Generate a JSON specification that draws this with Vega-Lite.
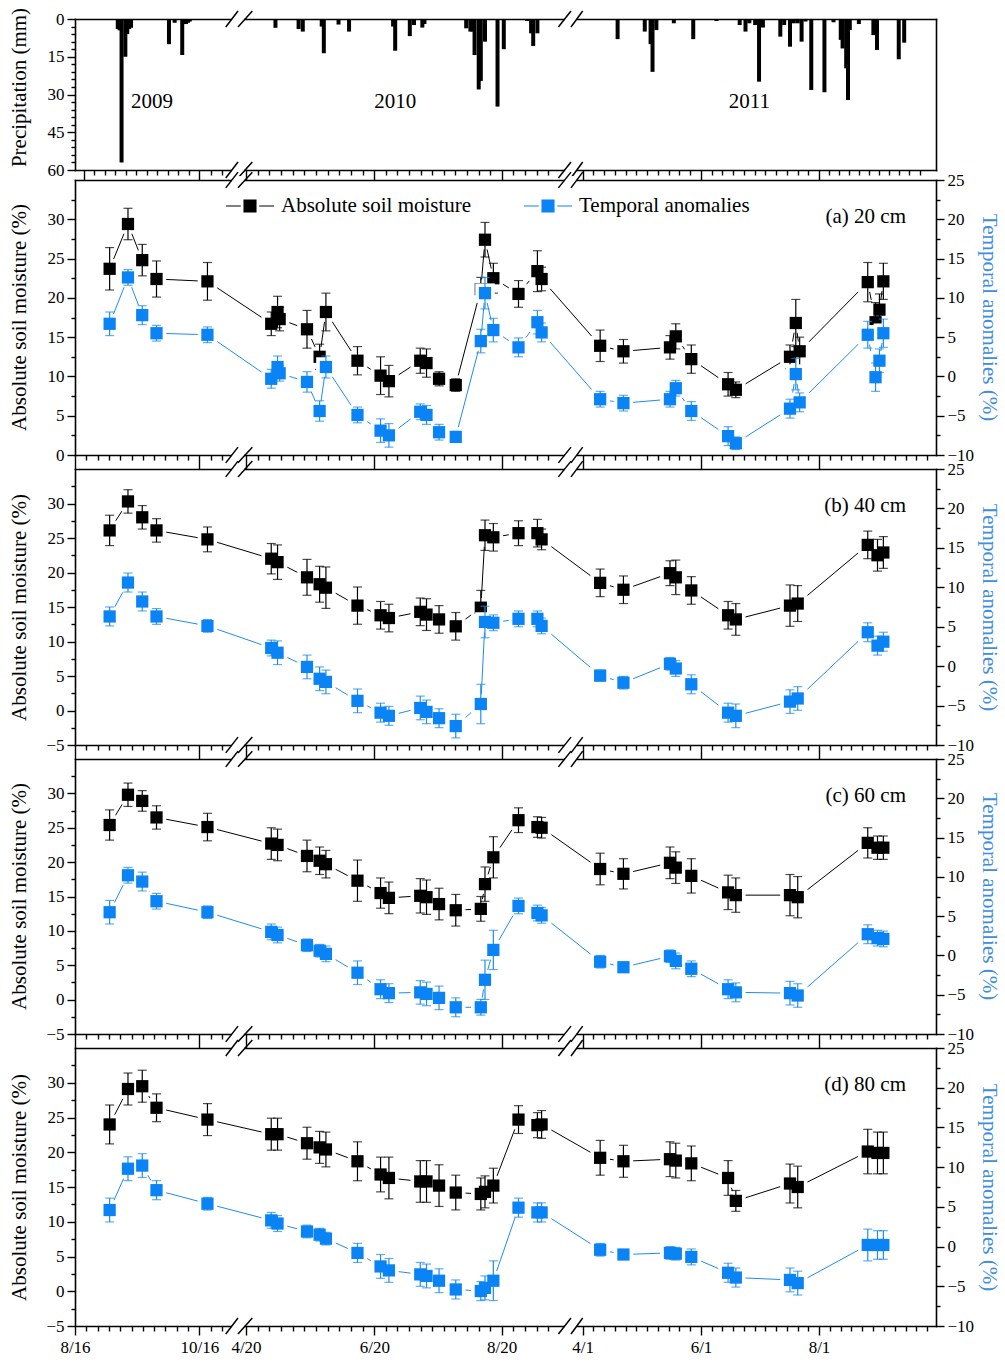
{
"$schema":"https://vega.github.io/schema/vega-lite/v6.json",
"background":"white",
"padding":{"left":7,"top":7,"right":5,"bottom":0},
"config":{
 "view":{"stroke":null},
 "axis":{"grid":false,"labelFont":"Liberation Serif","labelFontSize":17,"labelColor":"black","titleFont":"Liberation Serif","titleFontSize":21,"titleFontWeight":"normal","titleColor":"black","domainColor":"black","domainWidth":1.6,"domainCap":"square","tickColor":"black","tickWidth":1.4,"labelFlush":false,"labelOverlap":false,"labelBound":false},
 "legend":{"labelFont":"Liberation Serif"}
},
"datasets":{
 "gaps":[{"s":"2009-11-01","e":"2010-04-19"},{"s":"2010-09-19","e":"2011-03-29"}],
 "slashes":[{"s":"2009-10-29","e":"2009-11-04"},{"s":"2010-04-16","e":"2010-04-23"},{"s":"2010-09-16","e":"2010-09-22"},{"s":"2011-03-26","e":"2011-04-01"}],
 "yr":[{"t":"2009-09-21","mm":33,"label":"2009"},{"t":"2010-06-30","mm":33,"label":"2010"},{"t":"2011-06-26","mm":33,"label":"2011"}],
 "pr":[
{"t":"2009-09-03","mm":4},{"t":"2009-09-04","mm":4.5},{"t":"2009-09-05","mm":57},{"t":"2009-09-07","mm":15},{"t":"2009-09-08","mm":6},{"t":"2009-09-09","mm":4},{"t":"2009-09-10","mm":3.5},{"t":"2009-09-30","mm":10},{"t":"2009-10-03","mm":1.5},{"t":"2009-10-07","mm":14.3},{"t":"2009-10-09","mm":2},{"t":"2009-10-10","mm":1.5},{"t":"2009-10-11","mm":1},
{"t":"2010-05-04","mm":3.5},{"t":"2010-05-15","mm":4},{"t":"2010-05-17","mm":5},{"t":"2010-05-26","mm":3},{"t":"2010-05-27","mm":13.6},{"t":"2010-06-03","mm":2.2},{"t":"2010-06-08","mm":5},{"t":"2010-06-29","mm":3},{"t":"2010-06-30","mm":12.6},{"t":"2010-07-07","mm":6.8},{"t":"2010-07-09","mm":2.4},{"t":"2010-07-13","mm":3.4},{"t":"2010-07-14","mm":2},{"t":"2010-08-03","mm":3.7},{"t":"2010-08-05","mm":5},{"t":"2010-08-06","mm":5},{"t":"2010-08-07","mm":14.3},{"t":"2010-08-09","mm":28},{"t":"2010-08-10","mm":24.6},{"t":"2010-08-12","mm":9},{"t":"2010-08-18","mm":34.8},{"t":"2010-08-21","mm":12},{"t":"2010-09-01","mm":0.8},{"t":"2010-09-03","mm":5.7},{"t":"2010-09-04","mm":10.7},{"t":"2010-09-06","mm":5.7},
{"t":"2011-04-19","mm":8},{"t":"2011-05-03","mm":5},{"t":"2011-05-06","mm":10},{"t":"2011-05-07","mm":21},{"t":"2011-05-09","mm":4.4},{"t":"2011-05-18","mm":1.7},{"t":"2011-05-28","mm":8},{"t":"2011-06-09","mm":0.8},{"t":"2011-06-21","mm":2.4},{"t":"2011-06-24","mm":5},{"t":"2011-06-26","mm":1.7},{"t":"2011-06-29","mm":2.4},{"t":"2011-07-01","mm":24.9},{"t":"2011-07-03","mm":3.4},{"t":"2011-07-12","mm":7},{"t":"2011-07-14","mm":2.4},{"t":"2011-07-17","mm":11},{"t":"2011-07-19","mm":1.7},{"t":"2011-07-21","mm":1.7},{"t":"2011-07-23","mm":9},{"t":"2011-07-25","mm":1},{"t":"2011-07-28","mm":28.2},{"t":"2011-08-04","mm":29.1},{"t":"2011-08-09","mm":1.3},{"t":"2011-08-13","mm":8.3},{"t":"2011-08-14","mm":11.7},{"t":"2011-08-16","mm":19.6},{"t":"2011-08-17","mm":32.2},{"t":"2011-08-18","mm":4.4},{"t":"2011-08-23","mm":2},{"t":"2011-08-31","mm":6.4},{"t":"2011-09-02","mm":12.3},{"t":"2011-09-14","mm":16},{"t":"2011-09-17","mm":9.4}
 ],
 "sm":[
{"d":"a","t":"2009-09-02","sm":23.7,"se":2.7,"an":6.7,"ae":1.5},
{"d":"a","t":"2009-09-11","sm":29.4,"se":2.0,"an":12.6,"ae":1.0},
{"d":"a","t":"2009-09-18","sm":24.8,"se":2.0,"an":7.8,"ae":1.2},
{"d":"a","t":"2009-09-25","sm":22.4,"se":2.3,"an":5.5,"ae":1.0},
{"d":"a","t":"2009-10-20","sm":22.1,"se":2.4,"an":5.3,"ae":1.0},
{"d":"a","t":"2010-05-02","sm":16.7,"se":1.5,"an":-0.3,"ae":1.2},
{"d":"a","t":"2010-05-05","sm":18.2,"se":2.0,"an":1.2,"ae":1.4},
{"d":"a","t":"2010-05-06","sm":17.3,"se":1.5,"an":0.4,"ae":1.0},
{"d":"a","t":"2010-05-19","sm":16.0,"se":2.4,"an":-0.7,"ae":1.3},
{"d":"a","t":"2010-05-25","sm":12.5,"se":1.6,"an":-4.4,"ae":1.3},
{"d":"a","t":"2010-05-28","sm":18.2,"se":2.4,"an":1.2,"ae":1.4},
{"d":"a","t":"2010-06-12","sm":12.0,"se":1.8,"an":-4.9,"ae":1.0},
{"d":"a","t":"2010-06-23","sm":10.1,"se":2.4,"an":-6.9,"ae":1.5},
{"d":"a","t":"2010-06-27","sm":9.4,"se":2.0,"an":-7.5,"ae":1.5},
{"d":"a","t":"2010-07-12","sm":12.0,"se":1.6,"an":-4.5,"ae":1.0},
{"d":"a","t":"2010-07-15","sm":11.7,"se":1.8,"an":-4.9,"ae":1.2},
{"d":"a","t":"2010-07-21","sm":9.7,"se":0.9,"an":-7.1,"ae":1.0},
{"d":"a","t":"2010-07-29","sm":8.9,"se":0.8,"an":-7.7,"ae":0.7},
{"d":"a","t":"2010-08-10","sm":21.1,"se":1.5,"an":4.5,"ae":1.5},
{"d":"a","t":"2010-08-12","sm":27.4,"se":2.2,"an":10.6,"ae":2.0},
{"d":"a","t":"2010-08-16","sm":22.5,"se":1.9,"an":5.9,"ae":1.5},
{"d":"a","t":"2010-08-28","sm":20.5,"se":1.7,"an":3.7,"ae":1.2},
{"d":"a","t":"2010-09-06","sm":23.4,"se":2.6,"an":6.9,"ae":1.5},
{"d":"a","t":"2010-09-08","sm":22.4,"se":1.5,"an":5.6,"ae":1.2},
{"d":"a","t":"2011-04-10","sm":13.9,"se":2.0,"an":-2.9,"ae":1.0},
{"d":"a","t":"2011-04-22","sm":13.2,"se":1.5,"an":-3.4,"ae":1.0},
{"d":"a","t":"2011-05-16","sm":13.7,"se":1.5,"an":-2.9,"ae":1.0},
{"d":"a","t":"2011-05-19","sm":15.1,"se":1.6,"an":-1.5,"ae":1.0},
{"d":"a","t":"2011-05-27","sm":12.2,"se":1.8,"an":-4.4,"ae":1.2},
{"d":"a","t":"2011-06-15","sm":9.0,"se":1.5,"an":-7.6,"ae":1.2},
{"d":"a","t":"2011-06-19","sm":8.3,"se":1.0,"an":-8.5,"ae":0.8},
{"d":"a","t":"2011-07-17","sm":12.5,"se":1.5,"an":-4.1,"ae":1.2},
{"d":"a","t":"2011-07-20","sm":16.8,"se":3.0,"an":0.3,"ae":2.0},
{"d":"a","t":"2011-07-22","sm":13.2,"se":1.8,"an":-3.3,"ae":1.2},
{"d":"a","t":"2011-08-26","sm":22.0,"se":2.5,"an":5.3,"ae":1.7},
{"d":"a","t":"2011-08-30","sm":16.9,"se":2.5,"an":-0.1,"ae":1.8},
{"d":"a","t":"2011-09-01","sm":18.5,"se":2.0,"an":2.0,"ae":1.5},
{"d":"a","t":"2011-09-03","sm":22.1,"se":2.3,"an":5.5,"ae":1.8},
{"d":"b","t":"2009-09-02","sm":26.1,"se":2.2,"an":6.3,"ae":1.2},
{"d":"b","t":"2009-09-11","sm":30.3,"se":1.7,"an":10.6,"ae":1.2},
{"d":"b","t":"2009-09-18","sm":28.0,"se":1.7,"an":8.2,"ae":1.2},
{"d":"b","t":"2009-09-25","sm":26.1,"se":1.7,"an":6.3,"ae":1.0},
{"d":"b","t":"2009-10-20","sm":24.8,"se":1.8,"an":5.1,"ae":0.8},
{"d":"b","t":"2010-05-02","sm":22.0,"se":2.2,"an":2.3,"ae":1.0},
{"d":"b","t":"2010-05-05","sm":21.5,"se":2.5,"an":1.7,"ae":1.5},
{"d":"b","t":"2010-05-19","sm":19.3,"se":2.6,"an":-0.1,"ae":1.5},
{"d":"b","t":"2010-05-25","sm":18.3,"se":2.6,"an":-1.6,"ae":1.5},
{"d":"b","t":"2010-05-28","sm":17.8,"se":3.0,"an":-2.0,"ae":1.5},
{"d":"b","t":"2010-06-12","sm":15.2,"se":2.7,"an":-4.4,"ae":1.5},
{"d":"b","t":"2010-06-23","sm":13.8,"se":2.0,"an":-5.9,"ae":1.2},
{"d":"b","t":"2010-06-27","sm":13.4,"se":2.0,"an":-6.3,"ae":1.2},
{"d":"b","t":"2010-07-12","sm":14.3,"se":2.0,"an":-5.3,"ae":1.5},
{"d":"b","t":"2010-07-15","sm":13.9,"se":2.3,"an":-5.8,"ae":1.5},
{"d":"b","t":"2010-07-21","sm":13.2,"se":2.0,"an":-6.6,"ae":1.2},
{"d":"b","t":"2010-07-29","sm":12.2,"se":2.0,"an":-7.6,"ae":1.5},
{"d":"b","t":"2010-08-10","sm":14.9,"se":2.5,"an":-4.8,"ae":2.5},
{"d":"b","t":"2010-08-12","sm":25.4,"se":2.2,"an":5.6,"ae":2.0},
{"d":"b","t":"2010-08-16","sm":25.1,"se":2.0,"an":5.5,"ae":1.0},
{"d":"b","t":"2010-08-28","sm":25.7,"se":1.8,"an":6.0,"ae":1.0},
{"d":"b","t":"2010-09-06","sm":25.7,"se":2.0,"an":6.0,"ae":1.0},
{"d":"b","t":"2010-09-08","sm":24.8,"se":1.5,"an":5.1,"ae":1.0},
{"d":"b","t":"2011-04-10","sm":18.5,"se":2.0,"an":-1.2,"ae":0.7},
{"d":"b","t":"2011-04-22","sm":17.5,"se":2.0,"an":-2.1,"ae":0.8},
{"d":"b","t":"2011-05-16","sm":19.9,"se":1.8,"an":0.3,"ae":0.8},
{"d":"b","t":"2011-05-19","sm":19.3,"se":2.5,"an":-0.3,"ae":1.0},
{"d":"b","t":"2011-05-27","sm":17.4,"se":2.0,"an":-2.3,"ae":1.2},
{"d":"b","t":"2011-06-15","sm":13.8,"se":2.0,"an":-5.9,"ae":1.2},
{"d":"b","t":"2011-06-19","sm":13.2,"se":2.3,"an":-6.3,"ae":1.5},
{"d":"b","t":"2011-07-17","sm":15.2,"se":3.0,"an":-4.5,"ae":1.5},
{"d":"b","t":"2011-07-21","sm":15.5,"se":2.6,"an":-4.1,"ae":1.5},
{"d":"b","t":"2011-08-26","sm":24.0,"se":2.0,"an":4.3,"ae":1.2},
{"d":"b","t":"2011-08-31","sm":22.5,"se":2.3,"an":2.6,"ae":1.2},
{"d":"b","t":"2011-09-03","sm":22.9,"se":2.3,"an":3.1,"ae":1.2},
{"d":"c","t":"2009-09-02","sm":25.4,"se":2.2,"an":5.5,"ae":1.5},
{"d":"c","t":"2009-09-11","sm":29.8,"se":1.7,"an":10.2,"ae":1.0},
{"d":"c","t":"2009-09-18","sm":28.9,"se":1.5,"an":9.4,"ae":1.2},
{"d":"c","t":"2009-09-25","sm":26.5,"se":1.7,"an":6.9,"ae":1.0},
{"d":"c","t":"2009-10-20","sm":25.1,"se":2.0,"an":5.5,"ae":0.8},
{"d":"c","t":"2010-05-02","sm":22.7,"se":2.3,"an":3.0,"ae":1.0},
{"d":"c","t":"2010-05-05","sm":22.5,"se":2.3,"an":2.6,"ae":1.0},
{"d":"c","t":"2010-05-19","sm":20.9,"se":2.3,"an":1.3,"ae":0.8},
{"d":"c","t":"2010-05-25","sm":20.2,"se":2.0,"an":0.6,"ae":0.8},
{"d":"c","t":"2010-05-28","sm":19.7,"se":2.0,"an":0.2,"ae":1.0},
{"d":"c","t":"2010-06-12","sm":17.3,"se":3.0,"an":-2.2,"ae":1.5},
{"d":"c","t":"2010-06-23","sm":15.5,"se":2.2,"an":-4.3,"ae":1.2},
{"d":"c","t":"2010-06-27","sm":14.8,"se":2.3,"an":-4.8,"ae":1.2},
{"d":"c","t":"2010-07-12","sm":15.1,"se":2.5,"an":-4.7,"ae":1.5},
{"d":"c","t":"2010-07-15","sm":14.9,"se":2.5,"an":-4.9,"ae":1.5},
{"d":"c","t":"2010-07-21","sm":13.9,"se":2.3,"an":-5.4,"ae":1.5},
{"d":"c","t":"2010-07-29","sm":13.0,"se":2.3,"an":-6.6,"ae":1.2},
{"d":"c","t":"2010-08-10","sm":13.2,"se":1.8,"an":-6.6,"ae":1.0},
{"d":"c","t":"2010-08-12","sm":16.8,"se":2.5,"an":-3.1,"ae":2.5},
{"d":"c","t":"2010-08-16","sm":20.7,"se":3.0,"an":0.7,"ae":2.5},
{"d":"c","t":"2010-08-28","sm":26.1,"se":1.8,"an":6.3,"ae":1.0},
{"d":"c","t":"2010-09-06","sm":25.1,"se":1.5,"an":5.4,"ae":1.0},
{"d":"c","t":"2010-09-08","sm":25.0,"se":1.5,"an":5.1,"ae":1.0},
{"d":"c","t":"2011-04-10","sm":19.0,"se":2.3,"an":-0.8,"ae":0.8},
{"d":"c","t":"2011-04-22","sm":18.3,"se":2.2,"an":-1.5,"ae":0.6},
{"d":"c","t":"2011-05-16","sm":19.9,"se":2.3,"an":-0.1,"ae":0.8},
{"d":"c","t":"2011-05-19","sm":19.2,"se":2.3,"an":-0.7,"ae":1.0},
{"d":"c","t":"2011-05-27","sm":18.0,"se":2.5,"an":-1.7,"ae":1.0},
{"d":"c","t":"2011-06-15","sm":15.6,"se":2.5,"an":-4.3,"ae":1.2},
{"d":"c","t":"2011-06-19","sm":15.2,"se":2.5,"an":-4.7,"ae":1.2},
{"d":"c","t":"2011-07-17","sm":15.2,"se":3.0,"an":-4.8,"ae":1.5},
{"d":"c","t":"2011-07-21","sm":14.9,"se":3.0,"an":-5.1,"ae":1.5},
{"d":"c","t":"2011-08-26","sm":22.8,"se":2.2,"an":2.7,"ae":1.2},
{"d":"c","t":"2011-08-31","sm":22.1,"se":1.7,"an":2.2,"ae":1.0},
{"d":"c","t":"2011-09-03","sm":22.1,"se":1.7,"an":2.1,"ae":1.0},
{"d":"d","t":"2009-09-02","sm":24.0,"se":2.8,"an":4.6,"ae":1.5},
{"d":"d","t":"2009-09-11","sm":29.1,"se":2.3,"an":9.8,"ae":1.5},
{"d":"d","t":"2009-09-18","sm":29.5,"se":2.3,"an":10.2,"ae":1.5},
{"d":"d","t":"2009-09-25","sm":26.4,"se":2.0,"an":7.1,"ae":1.2},
{"d":"d","t":"2009-10-20","sm":24.7,"se":2.3,"an":5.4,"ae":0.8},
{"d":"d","t":"2010-05-02","sm":22.6,"se":2.3,"an":3.3,"ae":1.0},
{"d":"d","t":"2010-05-05","sm":22.6,"se":2.3,"an":2.9,"ae":1.0},
{"d":"d","t":"2010-05-19","sm":21.3,"se":2.3,"an":1.9,"ae":0.8},
{"d":"d","t":"2010-05-25","sm":20.7,"se":2.3,"an":1.5,"ae":0.8},
{"d":"d","t":"2010-05-28","sm":20.4,"se":2.5,"an":1.0,"ae":0.8},
{"d":"d","t":"2010-06-12","sm":18.7,"se":2.8,"an":-0.8,"ae":1.2},
{"d":"d","t":"2010-06-23","sm":16.8,"se":2.5,"an":-2.5,"ae":1.5},
{"d":"d","t":"2010-06-27","sm":16.3,"se":3.0,"an":-3.0,"ae":1.5},
{"d":"d","t":"2010-07-12","sm":15.8,"se":3.0,"an":-3.5,"ae":1.5},
{"d":"d","t":"2010-07-15","sm":15.8,"se":3.0,"an":-3.7,"ae":1.5},
{"d":"d","t":"2010-07-21","sm":15.2,"se":3.0,"an":-4.3,"ae":1.5},
{"d":"d","t":"2010-07-29","sm":14.2,"se":2.5,"an":-5.4,"ae":1.2},
{"d":"d","t":"2010-08-10","sm":14.0,"se":2.3,"an":-5.6,"ae":1.2},
{"d":"d","t":"2010-08-12","sm":14.3,"se":2.3,"an":-5.2,"ae":1.5},
{"d":"d","t":"2010-08-16","sm":15.2,"se":2.5,"an":-4.3,"ae":2.5},
{"d":"d","t":"2010-08-28","sm":24.7,"se":2.0,"an":4.9,"ae":1.2},
{"d":"d","t":"2010-09-06","sm":23.9,"se":1.8,"an":4.3,"ae":1.2},
{"d":"d","t":"2010-09-08","sm":24.0,"se":2.0,"an":4.3,"ae":1.2},
{"d":"d","t":"2011-04-10","sm":19.2,"se":2.5,"an":-0.4,"ae":0.8},
{"d":"d","t":"2011-04-22","sm":18.7,"se":2.3,"an":-1.0,"ae":0.6},
{"d":"d","t":"2011-05-16","sm":19.0,"se":2.5,"an":-0.8,"ae":0.8},
{"d":"d","t":"2011-05-19","sm":18.8,"se":2.5,"an":-0.9,"ae":0.8},
{"d":"d","t":"2011-05-27","sm":18.4,"se":2.5,"an":-1.3,"ae":1.0},
{"d":"d","t":"2011-06-15","sm":16.3,"se":2.5,"an":-3.3,"ae":1.2},
{"d":"d","t":"2011-06-19","sm":13.0,"se":1.5,"an":-3.9,"ae":1.2},
{"d":"d","t":"2011-07-17","sm":15.5,"se":2.8,"an":-4.2,"ae":1.5},
{"d":"d","t":"2011-07-21","sm":15.0,"se":3.0,"an":-4.6,"ae":1.5},
{"d":"d","t":"2011-08-26","sm":20.1,"se":3.2,"an":0.2,"ae":2.0},
{"d":"d","t":"2011-08-31","sm":19.9,"se":3.0,"an":0.2,"ae":1.8},
{"d":"d","t":"2011-09-03","sm":19.9,"se":3.0,"an":0.2,"ae":1.8}
 ]
},
"spacing":10,
"bounds":"flush",
"resolve":{"scale":{"color":"independent"},"legend":{"color":"independent"}},
"vconcat":[
{
 "width":861,"height":151,
 "resolve":{"axis":{"x":"independent","y":"independent"}},
 "layer":[
  {"data":{"name":"pr","format":{"parse":{"t":"date"}}},"mark":{"type":"bar","color":"black","size":4},
   "encoding":{
    "x":{"field":"t","type":"quantitative","scale":{"type":"linear","nice":false,"zero":false,"domain":[1250380800000,1255651200000,1257292800000,1271376000000,1271721600000,1276992000000,1282262400000,1285113600000,1301097600000,1301616000000,1306886400000,1312156800000,1317340800000],"range":[0,124.3,163,163,171,299.3,426.7,496,496,507.7,626,744,861]},
     "axis":{"orient":"bottom","values":[1250380800000,1255651200000,1271721600000,1276992000000,1282262400000,1301616000000,1306886400000,1312156800000],"tickSize":10,"labels":false,"domain":true,"title":null}},
    "y":{"field":"mm","type":"quantitative","stack":null,"scale":{"domain":[0,60],"reverse":true,"nice":false,"zero":false},
     "axis":{"orient":"left","values":[0,15,30,45,60],"tickSize":8,"labelPadding":3,"title":"Precipitation (mm)","titleX":-50,"titleY":68,"titleAngle":-90,"titleBaseline":"alphabetic","titleAlign":"center"}}}},
  {"data":{"name":"yr","format":{"parse":{"t":"date"}}},"mark":{"type":"text","fontSize":21,"font":"Liberation Serif","color":"black","baseline":"middle","align":"center"},
   "encoding":{
    "x":{"field":"t","type":"quantitative","scale":{"type":"linear","nice":false,"zero":false,"domain":[1250380800000,1255651200000,1257292800000,1271376000000,1271721600000,1276992000000,1282262400000,1285113600000,1301097600000,1301616000000,1306886400000,1312156800000,1317340800000],"range":[0,124.3,163,163,171,299.3,426.7,496,496,507.7,626,744,861]},
     "axis":{"orient":"bottom","values":[1250859927273,1251339054545,1251818181818,1252297309091,1252776436364,1253255563636,1253734690909,1254213818182,1254692945455,1255172072727,1256130327273,1256609454545,1272200727273,1272679854545,1273158981818,1273638109091,1274117236364,1274596363636,1275075490909,1275554618182,1276033745455,1276512872727,1277471127273,1277950254545,1278429381818,1278908509091,1279387636364,1279866763636,1280345890909,1280825018182,1281304145455,1281783272727,1282741527273,1283220654545,1283699781818,1284178909091,1302095127273,1302574254545,1303053381818,1303532509091,1304011636364,1304490763636,1304969890909,1305449018182,1305928145455,1306407272727,1307365527273,1307844654545,1308323781818,1308802909091,1309282036364,1309761163636,1310240290909,1310719418182,1311198545455,1311677672727,1312635927273,1313115054545,1313594181818,1314073309091,1314552436364,1315031563636,1315510690909,1315989818182,1316468945455,1316948072727],"tickSize":5,"labels":false,"domain":false,"title":null}},
    "y":{"field":"mm","type":"quantitative","axis":{"orient":"left","values":[3,6,9,12,18,21,24,27,33,36,39,42,48,51,54,57],"tickSize":4,"labels":false,"domain":false,"title":null}},
    "text":{"field":"label"}}},
  {"data":{"name":"gaps","format":{"parse":{"s":"date","e":"date"}}},"mark":{"type":"rect","color":"white","opacity":1},
   "encoding":{"x":{"field":"s","type":"quantitative","scale":{"type":"linear","nice":false,"zero":false,"domain":[1250380800000,1255651200000,1257292800000,1271376000000,1271721600000,1276992000000,1282262400000,1285113600000,1301097600000,1301616000000,1306886400000,1312156800000,1317340800000],"range":[0,124.3,163,163,171,299.3,426.7,496,496,507.7,626,744,861]},"axis":{"orient":"top","ticks":false,"labels":false,"domain":true,"title":null}},"x2":{"field":"e"},
    "y":{"datum":59.2,"type":"quantitative","axis":{"orient":"right","ticks":false,"labels":false,"domain":true,"title":null}},"y2":{"datum":60.8}}},
  {"data":{"name":"gaps","format":{"parse":{"s":"date","e":"date"}}},"mark":{"type":"rect","color":"white","opacity":1},
   "encoding":{"x":{"field":"s","type":"quantitative","scale":{"type":"linear","nice":false,"zero":false,"domain":[1250380800000,1255651200000,1257292800000,1271376000000,1271721600000,1276992000000,1282262400000,1285113600000,1301097600000,1301616000000,1306886400000,1312156800000,1317340800000],"range":[0,124.3,163,163,171,299.3,426.7,496,496,507.7,626,744,861]},"axis":null},"x2":{"field":"e"},"y":{"datum":-0.8,"type":"quantitative","axis":null},"y2":{"datum":0.8}}},
  {"data":{"name":"slashes","format":{"parse":{"s":"date","e":"date"}}},"mark":{"type":"rule","color":"black","strokeWidth":1.5},
   "encoding":{"x":{"field":"s","type":"quantitative","scale":{"type":"linear","nice":false,"zero":false,"domain":[1250380800000,1255651200000,1257292800000,1271376000000,1271721600000,1276992000000,1282262400000,1285113600000,1301097600000,1301616000000,1306886400000,1312156800000,1317340800000],"range":[0,124.3,163,163,171,299.3,426.7,496,496,507.7,626,744,861]},"axis":null},"x2":{"field":"e"},"y":{"datum":63.2,"type":"quantitative","axis":null},"y2":{"datum":56.8}}},
  {"data":{"name":"slashes","format":{"parse":{"s":"date","e":"date"}}},"mark":{"type":"rule","color":"black","strokeWidth":1.5},
   "encoding":{"x":{"field":"s","type":"quantitative","scale":{"type":"linear","nice":false,"zero":false,"domain":[1250380800000,1255651200000,1257292800000,1271376000000,1271721600000,1276992000000,1282262400000,1285113600000,1301097600000,1301616000000,1306886400000,1312156800000,1317340800000],"range":[0,124.3,163,163,171,299.3,426.7,496,496,507.7,626,744,861]},"axis":null},"x2":{"field":"e"},"y":{"datum":3.2,"type":"quantitative","axis":null},"y2":{"datum":-3.2}}}
 ]
},
{
 "spacing":14,
 "bounds":"flush",
 "resolve":{"scale":{"color":"independent"},"legend":{"color":"independent"}},
 "vconcat":[
 {
  "width":861,"height":275,
  "title":{"text":"(a) 20 cm","anchor":"end","frame":"group","offset":-56,"dx":-30,"fontSize":21,"font":"Liberation Serif","fontWeight":"normal","color":"black"},
  "resolve":{"scale":{"y":"independent"},"axis":{"x":"independent","y":"independent"}},
  "layer":[
   {"data":{"name":"sm","format":{"parse":{"t":"date"}}},"transform":[{"filter":"datum.d==='a'"}],"mark":{"type":"line","color":"black","strokeWidth":1},
    "encoding":{
     "x":{"field":"t","type":"quantitative","scale":{"type":"linear","nice":false,"zero":false,"domain":[1250380800000,1255651200000,1257292800000,1271376000000,1271721600000,1276992000000,1282262400000,1285113600000,1301097600000,1301616000000,1306886400000,1312156800000,1317340800000],"range":[0,124.3,163,163,171,299.3,426.7,496,496,507.7,626,744,861]},
      "axis":{"orient":"bottom","values":[1250859927273,1251339054545,1251818181818,1252297309091,1252776436364,1253255563636,1253734690909,1254213818182,1254692945455,1255172072727,1256130327273,1256609454545,1272200727273,1272679854545,1273158981818,1273638109091,1274117236364,1274596363636,1275075490909,1275554618182,1276033745455,1276512872727,1277471127273,1277950254545,1278429381818,1278908509091,1279387636364,1279866763636,1280345890909,1280825018182,1281304145455,1281783272727,1282741527273,1283220654545,1283699781818,1284178909091,1302095127273,1302574254545,1303053381818,1303532509091,1304011636364,1304490763636,1304969890909,1305449018182,1305928145455,1306407272727,1307365527273,1307844654545,1308323781818,1308802909091,1309282036364,1309761163636,1310240290909,1310719418182,1311198545455,1311677672727,1312635927273,1313115054545,1313594181818,1314073309091,1314552436364,1315031563636,1315510690909,1315989818182,1316468945455,1316948072727],"tickSize":5,"labels":false,"domain":false,"title":null}},
     "y":{"field":"sm","type":"quantitative","scale":{"domain":[0,35],"nice":false,"zero":false},"axis":{"orient":"left","values":[2.5,7.5,12.5,17.5,22.5,27.5,32.5],"tickSize":4,"labels":false,"domain":false,"title":null}}}},
   {"data":{"name":"sm","format":{"parse":{"t":"date"}}},"transform":[{"filter":"datum.d==='a'"}],"mark":{"type":"line","color":"#1E8CF0","strokeWidth":1},
    "encoding":{
     "x":{"field":"t","type":"quantitative","scale":{"type":"linear","nice":false,"zero":false,"domain":[1250380800000,1255651200000,1257292800000,1271376000000,1271721600000,1276992000000,1282262400000,1285113600000,1301097600000,1301616000000,1306886400000,1312156800000,1317340800000],"range":[0,124.3,163,163,171,299.3,426.7,496,496,507.7,626,744,861]},"axis":{"orient":"top","ticks":false,"labels":false,"domain":true,"title":null}},
     "y":{"field":"an","type":"quantitative","scale":{"domain":[-10,25],"nice":false,"zero":false},"axis":{"orient":"right","values":[-7.5,-2.5,2.5,7.5,12.5,17.5,22.5],"tickSize":4,"labels":false,"domain":false,"title":null}}}},
   {"data":{"name":"sm","format":{"parse":{"t":"date"}}},"transform":[{"filter":"datum.d==='a'"}],
    "encoding":{
     "x":{"field":"t","type":"quantitative","scale":{"type":"linear","nice":false,"zero":false,"domain":[1250380800000,1255651200000,1257292800000,1271376000000,1271721600000,1276992000000,1282262400000,1285113600000,1301097600000,1301616000000,1306886400000,1312156800000,1317340800000],"range":[0,124.3,163,163,171,299.3,426.7,496,496,507.7,626,744,861]},"axis":{"orient":"bottom","values":[1250380800000,1255651200000,1271721600000,1276992000000,1282262400000,1301616000000,1306886400000,1312156800000],"tickSize":14,"labels":false,"domain":true,"title":null}},
     "y":{"field":"sm","type":"quantitative","scale":{"domain":[0,35],"nice":false,"zero":false},"axis":{"orient":"left","values":[0,5,10,15,20,25,30],"tickSize":8,"labelPadding":3,"title":"Absolute soil moisture (%)","titleX":-50,"titleY":137,"titleAngle":-90,"titleBaseline":"alphabetic","titleAlign":"center"}}},
    "layer":[
     {"mark":{"type":"square","size":380,"color":"white","opacity":1}},
     {"mark":{"type":"errorbar","color":"black","thickness":1.2,"ticks":{"size":9}},"encoding":{"yError":{"field":"se"}}},
     {"mark":{"type":"square","size":150,"opacity":1},"encoding":{"color":{"datum":"Absolute soil moisture","scale":{"domain":["Absolute soil moisture","Temporal anomalies"],"range":["black","#0A84F5"]},"legend":{"orient":"none","legendX":164,"legendY":15,"direction":"horizontal","title":null,"symbolType":"M-2.2,-0.05H-0.85V0.05H-2.2Z M0.85,-0.05H2.2V0.05H0.85Z M-0.6,-0.6H0.6V0.6H-0.6Z","symbolSize":475,"symbolStrokeWidth":0,"symbolOpacity":1,"labelFont":"Liberation Serif","labelFontSize":21,"labelColor":"black","labelLimit":400,"labelOffset":20,"columnPadding":52,"padding":0}}}}
    ]},
   {"data":{"name":"sm","format":{"parse":{"t":"date"}}},"transform":[{"filter":"datum.d==='a'"}],
    "encoding":{
     "x":{"field":"t","type":"quantitative","scale":{"type":"linear","nice":false,"zero":false,"domain":[1250380800000,1255651200000,1257292800000,1271376000000,1271721600000,1276992000000,1282262400000,1285113600000,1301097600000,1301616000000,1306886400000,1312156800000,1317340800000],"range":[0,124.3,163,163,171,299.3,426.7,496,496,507.7,626,744,861]},"axis":null},
     "y":{"field":"an","type":"quantitative","scale":{"domain":[-10,25],"nice":false,"zero":false},"axis":{"orient":"right","values":[-10,-5,0,5,10,15,20,25],"tickSize":8,"labelPadding":3,"title":"Temporal anomalies (%)","titleColor":"#3D8EDC","titleX":46,"titleY":137,"titleAngle":90,"titleBaseline":"alphabetic","titleAlign":"center"}}},
    "layer":[
     {"mark":{"type":"square","size":380,"color":"white","opacity":1}},
     {"mark":{"type":"errorbar","color":"#1E8CF0","thickness":1.2,"ticks":{"size":9}},"encoding":{"yError":{"field":"ae"}}},
     {"mark":{"type":"square","size":150,"opacity":1},"encoding":{"color":{"datum":"Temporal anomalies","scale":{"domain":["Absolute soil moisture","Temporal anomalies"],"range":["black","#0A84F5"]},"legend":{"orient":"none","legendX":164,"legendY":15,"direction":"horizontal","title":null,"symbolType":"M-2.2,-0.05H-0.85V0.05H-2.2Z M0.85,-0.05H2.2V0.05H0.85Z M-0.6,-0.6H0.6V0.6H-0.6Z","symbolSize":475,"symbolStrokeWidth":0,"symbolOpacity":1,"labelFont":"Liberation Serif","labelFontSize":21,"labelColor":"black","labelLimit":400,"labelOffset":20,"columnPadding":52,"padding":0}}}}
    ]},
   {"data":{"name":"gaps","format":{"parse":{"s":"date","e":"date"}}},"mark":{"type":"rect","color":"white","opacity":1},"encoding":{"x":{"field":"s","type":"quantitative","scale":{"type":"linear","nice":false,"zero":false,"domain":[1250380800000,1255651200000,1257292800000,1271376000000,1271721600000,1276992000000,1282262400000,1285113600000,1301097600000,1301616000000,1306886400000,1312156800000,1317340800000],"range":[0,124.3,163,163,171,299.3,426.7,496,496,507.7,626,744,861]},"axis":null},"x2":{"field":"e"},"y":{"datum":-10.5,"type":"quantitative","scale":{"domain":[-10,25],"nice":false,"zero":false},"axis":null},"y2":{"datum":-9.5}}},
   {"data":{"name":"gaps","format":{"parse":{"s":"date","e":"date"}}},"mark":{"type":"rect","color":"white","opacity":1},"encoding":{"x":{"field":"s","type":"quantitative","scale":{"type":"linear","nice":false,"zero":false,"domain":[1250380800000,1255651200000,1257292800000,1271376000000,1271721600000,1276992000000,1282262400000,1285113600000,1301097600000,1301616000000,1306886400000,1312156800000,1317340800000],"range":[0,124.3,163,163,171,299.3,426.7,496,496,507.7,626,744,861]},"axis":null},"x2":{"field":"e"},"y":{"datum":24.5,"type":"quantitative","scale":{"domain":[-10,25],"nice":false,"zero":false},"axis":null},"y2":{"datum":25.5}}},
   {"data":{"name":"slashes","format":{"parse":{"s":"date","e":"date"}}},"mark":{"type":"rule","color":"black","strokeWidth":1.5},"encoding":{"x":{"field":"s","type":"quantitative","scale":{"type":"linear","nice":false,"zero":false,"domain":[1250380800000,1255651200000,1257292800000,1271376000000,1271721600000,1276992000000,1282262400000,1285113600000,1301097600000,1301616000000,1306886400000,1312156800000,1317340800000],"range":[0,124.3,163,163,171,299.3,426.7,496,496,507.7,626,744,861]},"axis":null},"x2":{"field":"e"},"y":{"datum":-11,"type":"quantitative","scale":{"domain":[-10,25],"nice":false,"zero":false},"axis":null},"y2":{"datum":-9}}},
   {"data":{"name":"slashes","format":{"parse":{"s":"date","e":"date"}}},"mark":{"type":"rule","color":"black","strokeWidth":1.5},"encoding":{"x":{"field":"s","type":"quantitative","scale":{"type":"linear","nice":false,"zero":false,"domain":[1250380800000,1255651200000,1257292800000,1271376000000,1271721600000,1276992000000,1282262400000,1285113600000,1301097600000,1301616000000,1306886400000,1312156800000,1317340800000],"range":[0,124.3,163,163,171,299.3,426.7,496,496,507.7,626,744,861]},"axis":null},"x2":{"field":"e"},"y":{"datum":24,"type":"quantitative","scale":{"domain":[-10,25],"nice":false,"zero":false},"axis":null},"y2":{"datum":26}}}
  ]
 },
 {
  "width":861,"height":276,
  "title":{"text":"(b) 40 cm","anchor":"end","frame":"group","offset":-56,"dx":-30,"fontSize":21,"font":"Liberation Serif","fontWeight":"normal","color":"black"},
  "resolve":{"scale":{"y":"independent"},"axis":{"x":"independent","y":"independent"}},
  "layer":[
   {"data":{"name":"sm","format":{"parse":{"t":"date"}}},"transform":[{"filter":"datum.d==='b'"}],"mark":{"type":"line","color":"black","strokeWidth":1},
    "encoding":{
     "x":{"field":"t","type":"quantitative","scale":{"type":"linear","nice":false,"zero":false,"domain":[1250380800000,1255651200000,1257292800000,1271376000000,1271721600000,1276992000000,1282262400000,1285113600000,1301097600000,1301616000000,1306886400000,1312156800000,1317340800000],"range":[0,124.3,163,163,171,299.3,426.7,496,496,507.7,626,744,861]},
      "axis":{"orient":"bottom","values":[1250859927273,1251339054545,1251818181818,1252297309091,1252776436364,1253255563636,1253734690909,1254213818182,1254692945455,1255172072727,1256130327273,1256609454545,1272200727273,1272679854545,1273158981818,1273638109091,1274117236364,1274596363636,1275075490909,1275554618182,1276033745455,1276512872727,1277471127273,1277950254545,1278429381818,1278908509091,1279387636364,1279866763636,1280345890909,1280825018182,1281304145455,1281783272727,1282741527273,1283220654545,1283699781818,1284178909091,1302095127273,1302574254545,1303053381818,1303532509091,1304011636364,1304490763636,1304969890909,1305449018182,1305928145455,1306407272727,1307365527273,1307844654545,1308323781818,1308802909091,1309282036364,1309761163636,1310240290909,1310719418182,1311198545455,1311677672727,1312635927273,1313115054545,1313594181818,1314073309091,1314552436364,1315031563636,1315510690909,1315989818182,1316468945455,1316948072727],"tickSize":5,"labels":false,"domain":false,"title":null}},
     "y":{"field":"sm","type":"quantitative","scale":{"domain":[-5,35],"nice":false,"zero":false},"axis":{"orient":"left","values":[-2.5,2.5,7.5,12.5,17.5,22.5,27.5,32.5],"tickSize":4,"labels":false,"domain":false,"title":null}}}},
   {"data":{"name":"sm","format":{"parse":{"t":"date"}}},"transform":[{"filter":"datum.d==='b'"}],"mark":{"type":"line","color":"#1E8CF0","strokeWidth":1},
    "encoding":{
     "x":{"field":"t","type":"quantitative","scale":{"type":"linear","nice":false,"zero":false,"domain":[1250380800000,1255651200000,1257292800000,1271376000000,1271721600000,1276992000000,1282262400000,1285113600000,1301097600000,1301616000000,1306886400000,1312156800000,1317340800000],"range":[0,124.3,163,163,171,299.3,426.7,496,496,507.7,626,744,861]},"axis":{"orient":"top","ticks":false,"labels":false,"domain":true,"title":null}},
     "y":{"field":"an","type":"quantitative","scale":{"domain":[-10,25],"nice":false,"zero":false},"axis":{"orient":"right","values":[-7.5,-2.5,2.5,7.5,12.5,17.5,22.5],"tickSize":4,"labels":false,"domain":false,"title":null}}}},
   {"data":{"name":"sm","format":{"parse":{"t":"date"}}},"transform":[{"filter":"datum.d==='b'"}],
    "encoding":{
     "x":{"field":"t","type":"quantitative","scale":{"type":"linear","nice":false,"zero":false,"domain":[1250380800000,1255651200000,1257292800000,1271376000000,1271721600000,1276992000000,1282262400000,1285113600000,1301097600000,1301616000000,1306886400000,1312156800000,1317340800000],"range":[0,124.3,163,163,171,299.3,426.7,496,496,507.7,626,744,861]},"axis":{"orient":"bottom","values":[1250380800000,1255651200000,1271721600000,1276992000000,1282262400000,1301616000000,1306886400000,1312156800000],"tickSize":14,"labels":false,"domain":true,"title":null}},
     "y":{"field":"sm","type":"quantitative","scale":{"domain":[-5,35],"nice":false,"zero":false},"axis":{"orient":"left","values":[-5,0,5,10,15,20,25,30],"tickSize":8,"labelPadding":3,"title":"Absolute soil moisture (%)","titleX":-50,"titleY":138,"titleAngle":-90,"titleBaseline":"alphabetic","titleAlign":"center"}}},
    "layer":[
     {"mark":{"type":"square","size":380,"color":"white","opacity":1}},
     {"mark":{"type":"errorbar","color":"black","thickness":1.2,"ticks":{"size":9}},"encoding":{"yError":{"field":"se"}}},
     {"mark":{"type":"square","size":150,"opacity":1},"encoding":{"color":{"datum":"Absolute soil moisture","scale":{"domain":["Absolute soil moisture","Temporal anomalies"],"range":["black","#0A84F5"]},"legend":null}}}
    ]},
   {"data":{"name":"sm","format":{"parse":{"t":"date"}}},"transform":[{"filter":"datum.d==='b'"}],
    "encoding":{
     "x":{"field":"t","type":"quantitative","scale":{"type":"linear","nice":false,"zero":false,"domain":[1250380800000,1255651200000,1257292800000,1271376000000,1271721600000,1276992000000,1282262400000,1285113600000,1301097600000,1301616000000,1306886400000,1312156800000,1317340800000],"range":[0,124.3,163,163,171,299.3,426.7,496,496,507.7,626,744,861]},"axis":null},
     "y":{"field":"an","type":"quantitative","scale":{"domain":[-10,25],"nice":false,"zero":false},"axis":{"orient":"right","values":[-10,-5,0,5,10,15,20,25],"tickSize":8,"labelPadding":3,"title":"Temporal anomalies (%)","titleColor":"#3D8EDC","titleX":46,"titleY":138,"titleAngle":90,"titleBaseline":"alphabetic","titleAlign":"center"}}},
    "layer":[
     {"mark":{"type":"square","size":380,"color":"white","opacity":1}},
     {"mark":{"type":"errorbar","color":"#1E8CF0","thickness":1.2,"ticks":{"size":9}},"encoding":{"yError":{"field":"ae"}}},
     {"mark":{"type":"square","size":150,"opacity":1},"encoding":{"color":{"datum":"Temporal anomalies","scale":{"domain":["Absolute soil moisture","Temporal anomalies"],"range":["black","#0A84F5"]},"legend":null}}}
    ]},
   {"data":{"name":"gaps","format":{"parse":{"s":"date","e":"date"}}},"mark":{"type":"rect","color":"white","opacity":1},"encoding":{"x":{"field":"s","type":"quantitative","scale":{"type":"linear","nice":false,"zero":false,"domain":[1250380800000,1255651200000,1257292800000,1271376000000,1271721600000,1276992000000,1282262400000,1285113600000,1301097600000,1301616000000,1306886400000,1312156800000,1317340800000],"range":[0,124.3,163,163,171,299.3,426.7,496,496,507.7,626,744,861]},"axis":null},"x2":{"field":"e"},"y":{"datum":-10.5,"type":"quantitative","scale":{"domain":[-10,25],"nice":false,"zero":false},"axis":null},"y2":{"datum":-9.5}}},
   {"data":{"name":"gaps","format":{"parse":{"s":"date","e":"date"}}},"mark":{"type":"rect","color":"white","opacity":1},"encoding":{"x":{"field":"s","type":"quantitative","scale":{"type":"linear","nice":false,"zero":false,"domain":[1250380800000,1255651200000,1257292800000,1271376000000,1271721600000,1276992000000,1282262400000,1285113600000,1301097600000,1301616000000,1306886400000,1312156800000,1317340800000],"range":[0,124.3,163,163,171,299.3,426.7,496,496,507.7,626,744,861]},"axis":null},"x2":{"field":"e"},"y":{"datum":24.5,"type":"quantitative","scale":{"domain":[-10,25],"nice":false,"zero":false},"axis":null},"y2":{"datum":25.5}}},
   {"data":{"name":"slashes","format":{"parse":{"s":"date","e":"date"}}},"mark":{"type":"rule","color":"black","strokeWidth":1.5},"encoding":{"x":{"field":"s","type":"quantitative","scale":{"type":"linear","nice":false,"zero":false,"domain":[1250380800000,1255651200000,1257292800000,1271376000000,1271721600000,1276992000000,1282262400000,1285113600000,1301097600000,1301616000000,1306886400000,1312156800000,1317340800000],"range":[0,124.3,163,163,171,299.3,426.7,496,496,507.7,626,744,861]},"axis":null},"x2":{"field":"e"},"y":{"datum":-11,"type":"quantitative","scale":{"domain":[-10,25],"nice":false,"zero":false},"axis":null},"y2":{"datum":-9}}},
   {"data":{"name":"slashes","format":{"parse":{"s":"date","e":"date"}}},"mark":{"type":"rule","color":"black","strokeWidth":1.5},"encoding":{"x":{"field":"s","type":"quantitative","scale":{"type":"linear","nice":false,"zero":false,"domain":[1250380800000,1255651200000,1257292800000,1271376000000,1271721600000,1276992000000,1282262400000,1285113600000,1301097600000,1301616000000,1306886400000,1312156800000,1317340800000],"range":[0,124.3,163,163,171,299.3,426.7,496,496,507.7,626,744,861]},"axis":null},"x2":{"field":"e"},"y":{"datum":24,"type":"quantitative","scale":{"domain":[-10,25],"nice":false,"zero":false},"axis":null},"y2":{"datum":26}}}
  ]
 },
 {
  "width":861,"height":275,
  "title":{"text":"(c) 60 cm","anchor":"end","frame":"group","offset":-56,"dx":-30,"fontSize":21,"font":"Liberation Serif","fontWeight":"normal","color":"black"},
  "resolve":{"scale":{"y":"independent"},"axis":{"x":"independent","y":"independent"}},
  "layer":[
   {"data":{"name":"sm","format":{"parse":{"t":"date"}}},"transform":[{"filter":"datum.d==='c'"}],"mark":{"type":"line","color":"black","strokeWidth":1},
    "encoding":{
     "x":{"field":"t","type":"quantitative","scale":{"type":"linear","nice":false,"zero":false,"domain":[1250380800000,1255651200000,1257292800000,1271376000000,1271721600000,1276992000000,1282262400000,1285113600000,1301097600000,1301616000000,1306886400000,1312156800000,1317340800000],"range":[0,124.3,163,163,171,299.3,426.7,496,496,507.7,626,744,861]},
      "axis":{"orient":"bottom","values":[1250859927273,1251339054545,1251818181818,1252297309091,1252776436364,1253255563636,1253734690909,1254213818182,1254692945455,1255172072727,1256130327273,1256609454545,1272200727273,1272679854545,1273158981818,1273638109091,1274117236364,1274596363636,1275075490909,1275554618182,1276033745455,1276512872727,1277471127273,1277950254545,1278429381818,1278908509091,1279387636364,1279866763636,1280345890909,1280825018182,1281304145455,1281783272727,1282741527273,1283220654545,1283699781818,1284178909091,1302095127273,1302574254545,1303053381818,1303532509091,1304011636364,1304490763636,1304969890909,1305449018182,1305928145455,1306407272727,1307365527273,1307844654545,1308323781818,1308802909091,1309282036364,1309761163636,1310240290909,1310719418182,1311198545455,1311677672727,1312635927273,1313115054545,1313594181818,1314073309091,1314552436364,1315031563636,1315510690909,1315989818182,1316468945455,1316948072727],"tickSize":5,"labels":false,"domain":false,"title":null}},
     "y":{"field":"sm","type":"quantitative","scale":{"domain":[-5,35],"nice":false,"zero":false},"axis":{"orient":"left","values":[-2.5,2.5,7.5,12.5,17.5,22.5,27.5,32.5],"tickSize":4,"labels":false,"domain":false,"title":null}}}},
   {"data":{"name":"sm","format":{"parse":{"t":"date"}}},"transform":[{"filter":"datum.d==='c'"}],"mark":{"type":"line","color":"#1E8CF0","strokeWidth":1},
    "encoding":{
     "x":{"field":"t","type":"quantitative","scale":{"type":"linear","nice":false,"zero":false,"domain":[1250380800000,1255651200000,1257292800000,1271376000000,1271721600000,1276992000000,1282262400000,1285113600000,1301097600000,1301616000000,1306886400000,1312156800000,1317340800000],"range":[0,124.3,163,163,171,299.3,426.7,496,496,507.7,626,744,861]},"axis":{"orient":"top","ticks":false,"labels":false,"domain":true,"title":null}},
     "y":{"field":"an","type":"quantitative","scale":{"domain":[-10,25],"nice":false,"zero":false},"axis":{"orient":"right","values":[-7.5,-2.5,2.5,7.5,12.5,17.5,22.5],"tickSize":4,"labels":false,"domain":false,"title":null}}}},
   {"data":{"name":"sm","format":{"parse":{"t":"date"}}},"transform":[{"filter":"datum.d==='c'"}],
    "encoding":{
     "x":{"field":"t","type":"quantitative","scale":{"type":"linear","nice":false,"zero":false,"domain":[1250380800000,1255651200000,1257292800000,1271376000000,1271721600000,1276992000000,1282262400000,1285113600000,1301097600000,1301616000000,1306886400000,1312156800000,1317340800000],"range":[0,124.3,163,163,171,299.3,426.7,496,496,507.7,626,744,861]},"axis":{"orient":"bottom","values":[1250380800000,1255651200000,1271721600000,1276992000000,1282262400000,1301616000000,1306886400000,1312156800000],"tickSize":14,"labels":false,"domain":true,"title":null}},
     "y":{"field":"sm","type":"quantitative","scale":{"domain":[-5,35],"nice":false,"zero":false},"axis":{"orient":"left","values":[-5,0,5,10,15,20,25,30],"tickSize":8,"labelPadding":3,"title":"Absolute soil moisture (%)","titleX":-50,"titleY":137,"titleAngle":-90,"titleBaseline":"alphabetic","titleAlign":"center"}}},
    "layer":[
     {"mark":{"type":"square","size":380,"color":"white","opacity":1}},
     {"mark":{"type":"errorbar","color":"black","thickness":1.2,"ticks":{"size":9}},"encoding":{"yError":{"field":"se"}}},
     {"mark":{"type":"square","size":150,"opacity":1},"encoding":{"color":{"datum":"Absolute soil moisture","scale":{"domain":["Absolute soil moisture","Temporal anomalies"],"range":["black","#0A84F5"]},"legend":null}}}
    ]},
   {"data":{"name":"sm","format":{"parse":{"t":"date"}}},"transform":[{"filter":"datum.d==='c'"}],
    "encoding":{
     "x":{"field":"t","type":"quantitative","scale":{"type":"linear","nice":false,"zero":false,"domain":[1250380800000,1255651200000,1257292800000,1271376000000,1271721600000,1276992000000,1282262400000,1285113600000,1301097600000,1301616000000,1306886400000,1312156800000,1317340800000],"range":[0,124.3,163,163,171,299.3,426.7,496,496,507.7,626,744,861]},"axis":null},
     "y":{"field":"an","type":"quantitative","scale":{"domain":[-10,25],"nice":false,"zero":false},"axis":{"orient":"right","values":[-10,-5,0,5,10,15,20,25],"tickSize":8,"labelPadding":3,"title":"Temporal anomalies (%)","titleColor":"#3D8EDC","titleX":46,"titleY":137,"titleAngle":90,"titleBaseline":"alphabetic","titleAlign":"center"}}},
    "layer":[
     {"mark":{"type":"square","size":380,"color":"white","opacity":1}},
     {"mark":{"type":"errorbar","color":"#1E8CF0","thickness":1.2,"ticks":{"size":9}},"encoding":{"yError":{"field":"ae"}}},
     {"mark":{"type":"square","size":150,"opacity":1},"encoding":{"color":{"datum":"Temporal anomalies","scale":{"domain":["Absolute soil moisture","Temporal anomalies"],"range":["black","#0A84F5"]},"legend":null}}}
    ]},
   {"data":{"name":"gaps","format":{"parse":{"s":"date","e":"date"}}},"mark":{"type":"rect","color":"white","opacity":1},"encoding":{"x":{"field":"s","type":"quantitative","scale":{"type":"linear","nice":false,"zero":false,"domain":[1250380800000,1255651200000,1257292800000,1271376000000,1271721600000,1276992000000,1282262400000,1285113600000,1301097600000,1301616000000,1306886400000,1312156800000,1317340800000],"range":[0,124.3,163,163,171,299.3,426.7,496,496,507.7,626,744,861]},"axis":null},"x2":{"field":"e"},"y":{"datum":-10.5,"type":"quantitative","scale":{"domain":[-10,25],"nice":false,"zero":false},"axis":null},"y2":{"datum":-9.5}}},
   {"data":{"name":"gaps","format":{"parse":{"s":"date","e":"date"}}},"mark":{"type":"rect","color":"white","opacity":1},"encoding":{"x":{"field":"s","type":"quantitative","scale":{"type":"linear","nice":false,"zero":false,"domain":[1250380800000,1255651200000,1257292800000,1271376000000,1271721600000,1276992000000,1282262400000,1285113600000,1301097600000,1301616000000,1306886400000,1312156800000,1317340800000],"range":[0,124.3,163,163,171,299.3,426.7,496,496,507.7,626,744,861]},"axis":null},"x2":{"field":"e"},"y":{"datum":24.5,"type":"quantitative","scale":{"domain":[-10,25],"nice":false,"zero":false},"axis":null},"y2":{"datum":25.5}}},
   {"data":{"name":"slashes","format":{"parse":{"s":"date","e":"date"}}},"mark":{"type":"rule","color":"black","strokeWidth":1.5},"encoding":{"x":{"field":"s","type":"quantitative","scale":{"type":"linear","nice":false,"zero":false,"domain":[1250380800000,1255651200000,1257292800000,1271376000000,1271721600000,1276992000000,1282262400000,1285113600000,1301097600000,1301616000000,1306886400000,1312156800000,1317340800000],"range":[0,124.3,163,163,171,299.3,426.7,496,496,507.7,626,744,861]},"axis":null},"x2":{"field":"e"},"y":{"datum":-11,"type":"quantitative","scale":{"domain":[-10,25],"nice":false,"zero":false},"axis":null},"y2":{"datum":-9}}},
   {"data":{"name":"slashes","format":{"parse":{"s":"date","e":"date"}}},"mark":{"type":"rule","color":"black","strokeWidth":1.5},"encoding":{"x":{"field":"s","type":"quantitative","scale":{"type":"linear","nice":false,"zero":false,"domain":[1250380800000,1255651200000,1257292800000,1271376000000,1271721600000,1276992000000,1282262400000,1285113600000,1301097600000,1301616000000,1306886400000,1312156800000,1317340800000],"range":[0,124.3,163,163,171,299.3,426.7,496,496,507.7,626,744,861]},"axis":null},"x2":{"field":"e"},"y":{"datum":24,"type":"quantitative","scale":{"domain":[-10,25],"nice":false,"zero":false},"axis":null},"y2":{"datum":26}}}
  ]
 },
 {
  "width":861,"height":278,
  "title":{"text":"(d) 80 cm","anchor":"end","frame":"group","offset":-56,"dx":-30,"fontSize":21,"font":"Liberation Serif","fontWeight":"normal","color":"black"},
  "resolve":{"scale":{"y":"independent"},"axis":{"x":"independent","y":"independent"}},
  "layer":[
   {"data":{"name":"sm","format":{"parse":{"t":"date"}}},"transform":[{"filter":"datum.d==='d'"}],"mark":{"type":"line","color":"black","strokeWidth":1},
    "encoding":{
     "x":{"field":"t","type":"quantitative","scale":{"type":"linear","nice":false,"zero":false,"domain":[1250380800000,1255651200000,1257292800000,1271376000000,1271721600000,1276992000000,1282262400000,1285113600000,1301097600000,1301616000000,1306886400000,1312156800000,1317340800000],"range":[0,124.3,163,163,171,299.3,426.7,496,496,507.7,626,744,861]},
      "axis":{"orient":"bottom","values":[1250859927273,1251339054545,1251818181818,1252297309091,1252776436364,1253255563636,1253734690909,1254213818182,1254692945455,1255172072727,1256130327273,1256609454545,1272200727273,1272679854545,1273158981818,1273638109091,1274117236364,1274596363636,1275075490909,1275554618182,1276033745455,1276512872727,1277471127273,1277950254545,1278429381818,1278908509091,1279387636364,1279866763636,1280345890909,1280825018182,1281304145455,1281783272727,1282741527273,1283220654545,1283699781818,1284178909091,1302095127273,1302574254545,1303053381818,1303532509091,1304011636364,1304490763636,1304969890909,1305449018182,1305928145455,1306407272727,1307365527273,1307844654545,1308323781818,1308802909091,1309282036364,1309761163636,1310240290909,1310719418182,1311198545455,1311677672727,1312635927273,1313115054545,1313594181818,1314073309091,1314552436364,1315031563636,1315510690909,1315989818182,1316468945455,1316948072727],"tickSize":5,"labels":false,"domain":false,"title":null}},
     "y":{"field":"sm","type":"quantitative","scale":{"domain":[-5,35],"nice":false,"zero":false},"axis":{"orient":"left","values":[-2.5,2.5,7.5,12.5,17.5,22.5,27.5,32.5],"tickSize":4,"labels":false,"domain":false,"title":null}}}},
   {"data":{"name":"sm","format":{"parse":{"t":"date"}}},"transform":[{"filter":"datum.d==='d'"}],"mark":{"type":"line","color":"#1E8CF0","strokeWidth":1},
    "encoding":{
     "x":{"field":"t","type":"quantitative","scale":{"type":"linear","nice":false,"zero":false,"domain":[1250380800000,1255651200000,1257292800000,1271376000000,1271721600000,1276992000000,1282262400000,1285113600000,1301097600000,1301616000000,1306886400000,1312156800000,1317340800000],"range":[0,124.3,163,163,171,299.3,426.7,496,496,507.7,626,744,861]},"axis":{"orient":"top","ticks":false,"labels":false,"domain":true,"title":null}},
     "y":{"field":"an","type":"quantitative","scale":{"domain":[-10,25],"nice":false,"zero":false},"axis":{"orient":"right","values":[-7.5,-2.5,2.5,7.5,12.5,17.5,22.5],"tickSize":4,"labels":false,"domain":false,"title":null}}}},
   {"data":{"name":"sm","format":{"parse":{"t":"date"}}},"transform":[{"filter":"datum.d==='d'"}],
    "encoding":{
     "x":{"field":"t","type":"quantitative","scale":{"type":"linear","nice":false,"zero":false,"domain":[1250380800000,1255651200000,1257292800000,1271376000000,1271721600000,1276992000000,1282262400000,1285113600000,1301097600000,1301616000000,1306886400000,1312156800000,1317340800000],"range":[0,124.3,163,163,171,299.3,426.7,496,496,507.7,626,744,861]},"axis":{"orient":"bottom","values":[1250380800000,1255651200000,1271721600000,1276992000000,1282262400000,1301616000000,1306886400000,1312156800000],"tickSize":9,"labels":true,"labelExpr":"utcFormat(datum.value, '%-m/%-d')","labelPadding":4,"domain":true,"title":null}},
     "y":{"field":"sm","type":"quantitative","scale":{"domain":[-5,35],"nice":false,"zero":false},"axis":{"orient":"left","values":[-5,0,5,10,15,20,25,30],"tickSize":8,"labelPadding":3,"title":"Absolute soil moisture (%)","titleX":-50,"titleY":139,"titleAngle":-90,"titleBaseline":"alphabetic","titleAlign":"center"}}},
    "layer":[
     {"mark":{"type":"square","size":380,"color":"white","opacity":1}},
     {"mark":{"type":"errorbar","color":"black","thickness":1.2,"ticks":{"size":9}},"encoding":{"yError":{"field":"se"}}},
     {"mark":{"type":"square","size":150,"opacity":1},"encoding":{"color":{"datum":"Absolute soil moisture","scale":{"domain":["Absolute soil moisture","Temporal anomalies"],"range":["black","#0A84F5"]},"legend":null}}}
    ]},
   {"data":{"name":"sm","format":{"parse":{"t":"date"}}},"transform":[{"filter":"datum.d==='d'"}],
    "encoding":{
     "x":{"field":"t","type":"quantitative","scale":{"type":"linear","nice":false,"zero":false,"domain":[1250380800000,1255651200000,1257292800000,1271376000000,1271721600000,1276992000000,1282262400000,1285113600000,1301097600000,1301616000000,1306886400000,1312156800000,1317340800000],"range":[0,124.3,163,163,171,299.3,426.7,496,496,507.7,626,744,861]},"axis":null},
     "y":{"field":"an","type":"quantitative","scale":{"domain":[-10,25],"nice":false,"zero":false},"axis":{"orient":"right","values":[-10,-5,0,5,10,15,20,25],"tickSize":8,"labelPadding":3,"title":"Temporal anomalies (%)","titleColor":"#3D8EDC","titleX":46,"titleY":139,"titleAngle":90,"titleBaseline":"alphabetic","titleAlign":"center"}}},
    "layer":[
     {"mark":{"type":"square","size":380,"color":"white","opacity":1}},
     {"mark":{"type":"errorbar","color":"#1E8CF0","thickness":1.2,"ticks":{"size":9}},"encoding":{"yError":{"field":"ae"}}},
     {"mark":{"type":"square","size":150,"opacity":1},"encoding":{"color":{"datum":"Temporal anomalies","scale":{"domain":["Absolute soil moisture","Temporal anomalies"],"range":["black","#0A84F5"]},"legend":null}}}
    ]},
   {"data":{"name":"gaps","format":{"parse":{"s":"date","e":"date"}}},"mark":{"type":"rect","color":"white","opacity":1},"encoding":{"x":{"field":"s","type":"quantitative","scale":{"type":"linear","nice":false,"zero":false,"domain":[1250380800000,1255651200000,1257292800000,1271376000000,1271721600000,1276992000000,1282262400000,1285113600000,1301097600000,1301616000000,1306886400000,1312156800000,1317340800000],"range":[0,124.3,163,163,171,299.3,426.7,496,496,507.7,626,744,861]},"axis":null},"x2":{"field":"e"},"y":{"datum":-10.5,"type":"quantitative","scale":{"domain":[-10,25],"nice":false,"zero":false},"axis":null},"y2":{"datum":-9.5}}},
   {"data":{"name":"gaps","format":{"parse":{"s":"date","e":"date"}}},"mark":{"type":"rect","color":"white","opacity":1},"encoding":{"x":{"field":"s","type":"quantitative","scale":{"type":"linear","nice":false,"zero":false,"domain":[1250380800000,1255651200000,1257292800000,1271376000000,1271721600000,1276992000000,1282262400000,1285113600000,1301097600000,1301616000000,1306886400000,1312156800000,1317340800000],"range":[0,124.3,163,163,171,299.3,426.7,496,496,507.7,626,744,861]},"axis":null},"x2":{"field":"e"},"y":{"datum":24.5,"type":"quantitative","scale":{"domain":[-10,25],"nice":false,"zero":false},"axis":null},"y2":{"datum":25.5}}},
   {"data":{"name":"slashes","format":{"parse":{"s":"date","e":"date"}}},"mark":{"type":"rule","color":"black","strokeWidth":1.5},"encoding":{"x":{"field":"s","type":"quantitative","scale":{"type":"linear","nice":false,"zero":false,"domain":[1250380800000,1255651200000,1257292800000,1271376000000,1271721600000,1276992000000,1282262400000,1285113600000,1301097600000,1301616000000,1306886400000,1312156800000,1317340800000],"range":[0,124.3,163,163,171,299.3,426.7,496,496,507.7,626,744,861]},"axis":null},"x2":{"field":"e"},"y":{"datum":-11,"type":"quantitative","scale":{"domain":[-10,25],"nice":false,"zero":false},"axis":null},"y2":{"datum":-9}}},
   {"data":{"name":"slashes","format":{"parse":{"s":"date","e":"date"}}},"mark":{"type":"rule","color":"black","strokeWidth":1.5},"encoding":{"x":{"field":"s","type":"quantitative","scale":{"type":"linear","nice":false,"zero":false,"domain":[1250380800000,1255651200000,1257292800000,1271376000000,1271721600000,1276992000000,1282262400000,1285113600000,1301097600000,1301616000000,1306886400000,1312156800000,1317340800000],"range":[0,124.3,163,163,171,299.3,426.7,496,496,507.7,626,744,861]},"axis":null},"x2":{"field":"e"},"y":{"datum":24,"type":"quantitative","scale":{"domain":[-10,25],"nice":false,"zero":false},"axis":null},"y2":{"datum":26}}}
  ]
 }
 ]
}
]
}
